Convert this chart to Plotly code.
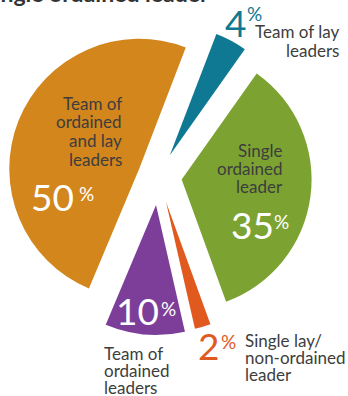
import plotly.graph_objects as go

W, H = 348, 396

labels = ["Team of lay leaders", "Single ordained leader", "Single lay/ non-ordained leader",
          "Team of ordained leaders", "Team of ordained and lay leaders"]
label_lines = [["Team of lay", "leaders"], ["Single", "ordained", "leader"],
               ["Single lay/", "non-ordained", "leader"], ["Team of", "ordained", "leaders"],
               ["Team of", "ordained", "and lay", "leaders"]]
values = [4, 35, 2, 10, 50]
colors = ["#0F7893", "#7CA332", "#E0591E", "#7C3E98", "#D2861C"]
pulls = [0.185, 0.18, 0.205, 0.22, 0.16]
title_text = "Single ordained leader"

fig = go.Figure(go.Pie(
    labels=labels, values=values, sort=False, direction="clockwise", rotation=21,
    marker=dict(colors=colors, line=dict(width=0)), pull=pulls,
    textinfo="none", hoverinfo="label+percent", showlegend=False,
    domain=dict(x=[0, 317 / W], y=[(H - 335) / H, (H - 18) / H]),
))

def px(x, y):
    return x / W, 1 - y / H

ann = []
def add(text, x, y, size, color, xanchor="center", font="Lato", weight=None):
    X, Y = px(x, y)
    f = dict(family=font, size=size, color=color)
    if weight:
        f["weight"] = weight
    ann.append(dict(text=text, x=X, y=Y, xref="paper", yref="paper", xanchor=xanchor,
                    yanchor="middle", showarrow=False, font=f))

txt = "#3d3d3d"
# numbers: (number center x, y, percent center x, y, color)
num_pos = [(236, 22, 254, 13, colors[0]), (252, 224, 281, 221, "white"), (208, 345, 228, 341, colors[2]),
           (137, 310, 168, 308, "white"), (52, 197, 86, 194, "white")]
for v, (nx, ny, sx, sy, c) in zip(values, num_pos):
    add(str(v), nx, ny, 37, c)
    add("%", sx, sy, 19, c)

# label blocks: (anchor x, first line y, spacing, xanchor)
lab_pos = [(341, 32, 18, "right"), (285, 150, 18, "right"), (243, 340, 17, "left"),
           (102, 353, 17, "left"), (124, 103, 18.7, "right")]
for lines, (lx, ly, sp, xa) in zip(label_lines, lab_pos):
    for i, line in enumerate(lines):
        add(line, lx, ly + i * sp, 17, txt, xanchor=xa)

add(title_text, 211, -6.5, 23, "#333333", xanchor="right", weight=700)

fig.update_layout(width=W, height=H, margin=dict(l=0, r=0, t=0, b=0),
                  paper_bgcolor="white", plot_bgcolor="white", annotations=ann,
                  font=dict(family="Lato"))
fig.write_html("out.html", config={"displayModeBar": False},
               post_script="document.body.style.margin='0';document.body.style.overflow='hidden';")
